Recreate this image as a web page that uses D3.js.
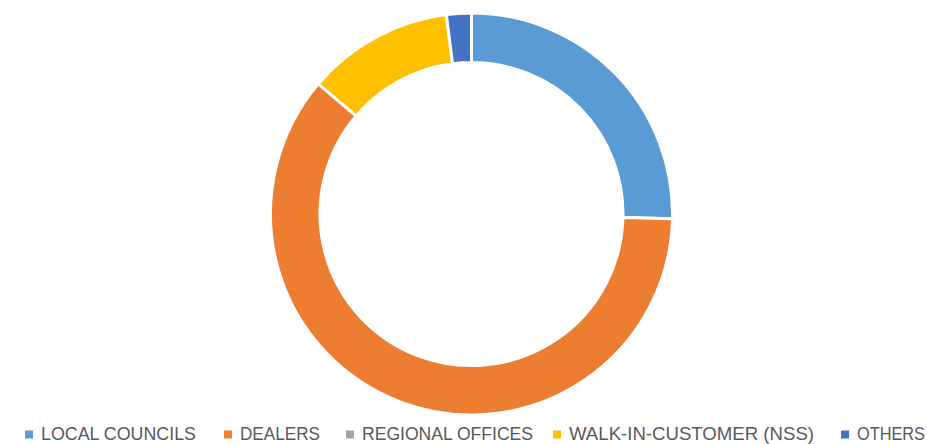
<!DOCTYPE html>
<html>
<head>
<meta charset="utf-8">
<script src="https://cdn.jsdelivr.net/npm/d3@7"></script>
<style>
  html, body { margin: 0; padding: 0; background: #fff; }
  svg { display: block; }
</style>
</head>
<body>
<svg id="donut"></svg>
<script>
// Donut chart - share by channel
const categories = ['LOCAL COUNCILS', 'DEALERS', 'REGIONAL OFFICES', 'WALK-IN-CUSTOMER (NSS)', 'OTHERS'];
const shares = [25.4, 60.9, 0, 11.8, 2.0];
const colors = ['#5B9BD5', '#ED7D31', '#A5A5A5', '#FFC000', '#4472C4'];

const W = 927, H = 444;
const CX = 471.5, CY = 214;
const OUTER = 201, INNER = 151.5;

const svg = d3.select('#donut')
    .attr('width', W)
    .attr('height', H)
    .attr('viewBox', `0 0 ${W} ${H}`);

const data = categories.map((c, i) => ({ name: c, value: shares[i], color: colors[i] }));

const pie = d3.pie().sort(null).value(d => d.value);
const arc = d3.arc().innerRadius(INNER).outerRadius(OUTER);

const g = svg.append('g').attr('transform', `translate(${CX},${CY})`);

g.selectAll('path')
    .data(pie(data).filter(d => d.data.value > 0))
    .join('path')
    .attr('d', arc)
    .attr('fill', d => d.data.color)
    .attr('stroke', '#fff')
    .attr('stroke-width', 3);

const LEGEND_X = [25, 224, 346, 553, 841];
const TEXT_W = [155, 80, 171, 245, 68];
const legend = svg.append('g');
data.forEach((d, i) => {
    legend.append('rect')
        .attr('x', LEGEND_X[i])
        .attr('y', 430.5)
        .attr('width', 8)
        .attr('height', 8)
        .attr('fill', d.color);
    legend.append('text')
        .attr('x', LEGEND_X[i] + 16)
        .attr('y', 440)
        .attr('textLength', TEXT_W[i])
        .attr('lengthAdjust', 'spacingAndGlyphs')
        .style('font-family', '"Liberation Sans Narrow", "Liberation Sans", Arial, sans-serif')
        .style('font-size', '18px')
        .style('fill', '#595959')
        .text(d.name);
});
</script>
</body>
</html>
